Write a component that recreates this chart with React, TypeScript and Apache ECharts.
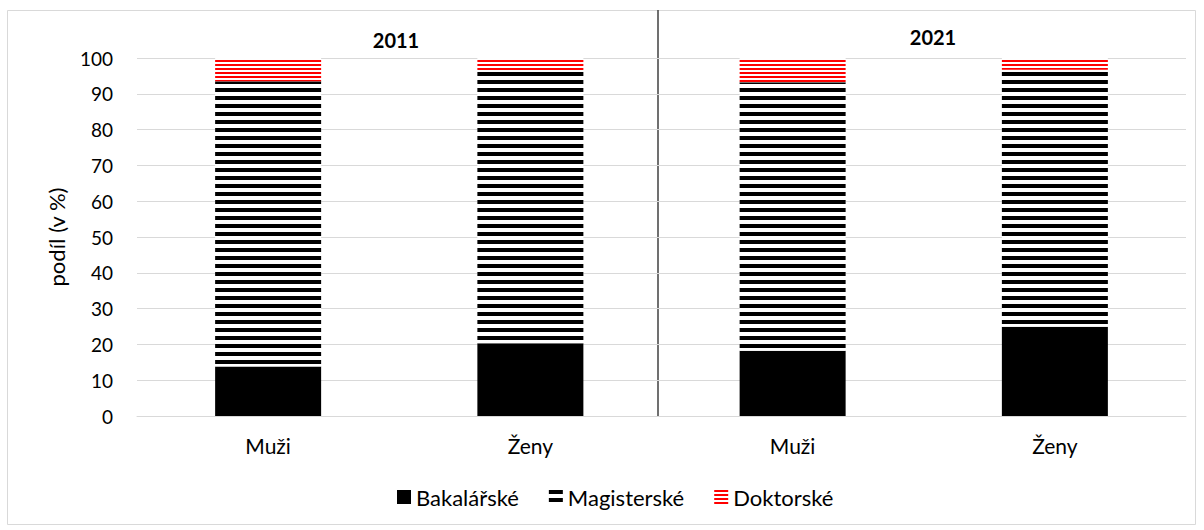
import React, { useEffect, useRef } from "react";
import * as echarts from "echarts";

const categories = ["Muži", "Ženy", "Muži", "Ženy"];
const years = ["2011", "2021"];
const bakalarske = [13.8, 20.3, 18.2, 24.9];
const doktorske = [6.5, 3.4, 6.8, 3.3];
const magisterske = bakalarske.map((b, i) => +(100 - b - doktorske[i]).toFixed(1));
const seriesNames = ["Bakalářské", "Magisterské", "Doktorské"];

const FONT = "Lato";

export default function App() {
  const ref = useRef<HTMLDivElement>(null);
  useEffect(() => {
    if (!ref.current) return;
    const chart = echarts.init(ref.current, null, { renderer: "svg" });
    chart.setOption({
      animation: false,
      backgroundColor: "#fff",
      textStyle: { fontFamily: FONT },
      grid: { left: 137, right: 18, top: 58, bottom: 114 },
      legend: {
        bottom: 17,
        left: 392,
        itemWidth: 14,
        itemHeight: 14,
        itemGap: 30,
        icon: "rect",
        textStyle: { fontFamily: FONT, fontSize: 22, color: "#000" },
        data: seriesNames,
      },
      xAxis: {
        type: "category",
        data: categories,
        axisLine: { lineStyle: { color: "#d9d9d9", width: 1 } },
        axisTick: { show: false },
        axisLabel: { color: "#000", fontSize: 21, margin: 19, fontFamily: FONT },
      },
      yAxis: {
        type: "value",
        min: 0,
        max: 100,
        interval: 10,
        name: "podíl (v %)",
        nameLocation: "middle",
        nameGap: 70,
        nameRotate: 90,
        nameTextStyle: { color: "#000", fontSize: 22, fontFamily: FONT },
        axisLine: { show: false },
        axisTick: { show: false },
        axisLabel: { color: "#000", fontSize: 19, margin: 24, fontFamily: FONT },
        splitLine: { lineStyle: { color: "#d9d9d9", width: 1 } },
      },
      series: [
        {
          name: seriesNames[0],
          type: "bar",
          stack: "s",
          barWidth: 106,
          data: bakalarske,
          itemStyle: { color: "#000" },
        },
        {
          name: seriesNames[1],
          type: "bar",
          stack: "s",
          barWidth: 106,
          data: magisterske,
          itemStyle: {
            color: "#fff",
            decal: {
              symbol: "rect",
              symbolSize: 1,
              color: "#000",
              backgroundColor: "#fff",
              dashArrayX: [1, 0],
              dashArrayY: [4, 4],
              rotation: 0,
            },
          },
        },
        {
          name: seriesNames[2],
          type: "bar",
          stack: "s",
          barWidth: 106,
          data: doktorske,
          itemStyle: {
            color: "#fff",
            decal: {
              symbol: "rect",
              symbolSize: 1,
              color: "#ff0000",
              backgroundColor: "#fff",
              dashArrayX: [1, 0],
              dashArrayY: [2, 2],
              rotation: 0,
            },
          },
        },
      ],
      graphic: [
        {
          type: "rect",
          shape: { x: 7.5, y: 10.5, width: 1188, height: 514 },
          style: { fill: "none", stroke: "#d9d9d9", lineWidth: 1 },
          silent: true,
        },
        {
          type: "line",
          shape: { x1: 658, y1: 10, x2: 658, y2: 416 },
          style: { stroke: "#404040", lineWidth: 1.5 },
          silent: true,
        },
        {
          type: "text",
          x: 396,
          y: 40,
          style: { text: years[0], fontFamily: FONT, fontSize: 20, fontWeight: "bold", fill: "#000", align: "center", verticalAlign: "middle" },
        },
        {
          type: "text",
          x: 933,
          y: 37,
          style: { text: years[1], fontFamily: FONT, fontSize: 20, fontWeight: "bold", fill: "#000", align: "center", verticalAlign: "middle" },
        },
      ],
    });
    return () => chart.dispose();
  }, []);
  return <div ref={ref} style={{ position: "absolute", left: 0, top: 0, width: 1204, height: 530 }} />;
}
